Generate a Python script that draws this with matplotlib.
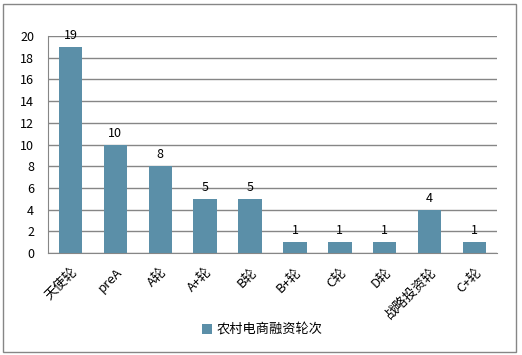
import matplotlib.pyplot as plt
from matplotlib.patches import Rectangle

plt.rcParams['font.family'] = ['Noto Sans CJK SC', 'DejaVu Sans']

rounds = ['天使轮', 'preA', 'A轮', 'A+轮', 'B轮', 'B+轮', 'C轮', 'D轮', '战略投资轮', 'C+轮']
counts = [19, 10, 8, 5, 5, 1, 1, 1, 4, 1]

bar_color = '#5B8FA8'
grid_color = '#868686'

fig = plt.figure(figsize=(5.22, 3.55), dpi=100)
ax = fig.add_axes([48 / 522, 1 - 253 / 355, 449 / 522, 217 / 355])

x = range(len(rounds))
bars = ax.bar(x, counts, width=0.52, color=bar_color, label='农村电商融资轮次', zorder=3)
for xi, v in zip(x, counts):
    ax.text(xi, v + 0.45, str(v), ha='center', va='bottom', fontsize=9, color='black')

ax.set_xlim(-0.5, len(rounds) - 0.5)
ax.set_ylim(0, 20)
ax.set_yticks(range(0, 21, 2))
ax.set_xticks(list(x))
ax.set_xticklabels(rounds, rotation=45, ha='right', rotation_mode='anchor', fontsize=9.5)
ax.tick_params(axis='both', length=0, labelsize=9)
ax.tick_params(axis='x', pad=9, labelsize=9.5)
ax.tick_params(axis='y', pad=10)
ax.yaxis.grid(True, color=grid_color, linewidth=1, zorder=0)

for side in ['top', 'right']:
    ax.spines[side].set_visible(False)
ax.spines['left'].set_color(grid_color)
ax.spines['bottom'].set_color(grid_color)

fig.legend(handles=[bars], loc='center', bbox_to_anchor=(262 / 522, 1 - 330 / 355),
           frameon=False, fontsize=9.5, handlelength=0.8, handleheight=0.8, handletextpad=0.3)

fig.patches.append(Rectangle((3 / 522, 3 / 355), 513 / 522, 348 / 355, transform=fig.transFigure,
                             fill=False, edgecolor=grid_color, linewidth=1))

fig.savefig('out.png', dpi=100)
